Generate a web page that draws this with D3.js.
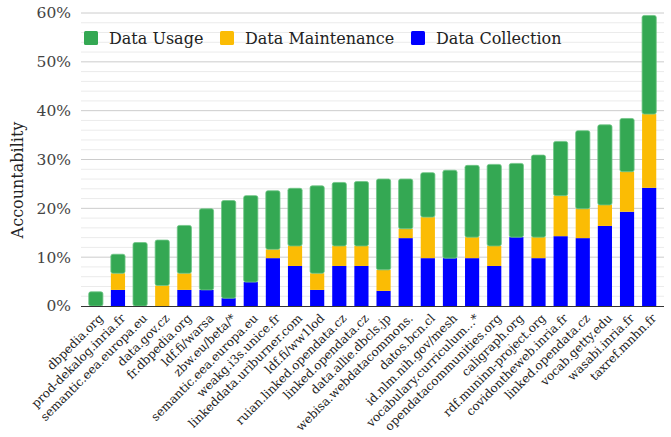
<!DOCTYPE html>
<html><head><meta charset="utf-8">
<script src="https://cdn.jsdelivr.net/npm/d3@7"></script>
<style>body{margin:0;background:#fff}svg{display:block}</style>
</head><body><svg id="c" width="671" height="437"></svg>
<script>
const categories = ["dbpedia.org","prod-dekalog.inria.fr","semantic.eea.europa.eu","data.gov.cz","fr.dbpedia.org","ldf.fi/warsa","zbw.eu/beta/*","semantic.eea.europa.eu","weakg.i3s.unice.fr","linkeddata.uriburner.com","ldf.fi/ww1lod","ruian.linked.opendata.cz","linked.opendata.cz","data.allie.dbcls.jp","webisa.webdatacommons.","datos.bcn.cl","id.nlm.nih.gov/mesh","vocabulary.curriculum...*","opendatacommunities.org","caligraph.org","rdf.muninn-project.org","covidontheweb.inria.fr","linked.opendata.cz","vocab.getty.edu","wasabi.inria.fr","taxref.mnhn.fr"];
const dataCollection  = [0,3.3,0,0,3.3,3.3,1.6,4.9,9.8,8.2,3.3,8.2,8.2,3.1,13.9,9.8,9.8,9.8,8.2,14.1,9.8,14.3,13.9,16.4,19.3,24.2];
const dataMaintenance = [0,3.4,0,4.2,3.4,0,0,0,1.8,4.1,3.4,4.1,4.1,4.3,1.9,8.4,0,4.3,4.1,0,4.3,8.3,6.0,4.3,8.2,15.1];
const dataUsage       = [2.9,3.9,13.0,9.3,9.8,16.6,20.0,17.7,12.0,11.8,17.9,13.0,13.2,18.6,10.2,9.1,18.0,14.7,16.7,15.1,16.8,11.1,16.0,16.4,10.9,20.2];
const seriesNames = ["Data Collection","Data Maintenance","Data Usage"];
const legendOrder = ["Data Usage","Data Maintenance","Data Collection"];
const yTicks = [0,10,20,30,40,50,60];

const colors = {"Data Collection":"#0000ff","Data Maintenance":"#fbbc04","Data Usage":"#34a853"};
const FONT = "'DejaVu Serif', serif";
const svg = d3.select("#c");
const L = 81, R = 664, T = 13, B = 306;

const rows = categories.map((c,i)=>({i, cat:c, "Data Collection":dataCollection[i], "Data Maintenance":dataMaintenance[i], "Data Usage":dataUsage[i]}));
const stack = d3.stack().keys(seriesNames)(rows);

const x = d3.scaleBand().domain(d3.range(categories.length)).range([L,R]).paddingInner(0.36).paddingOuter(0.35);
const y = d3.scaleLinear().domain([0,60]).range([B,T]);

// grid
const minor = d3.range(0,61,2).filter(v=>v%10!==0);
svg.append("g").selectAll("line").data(minor).join("line")
  .attr("x1",L).attr("x2",R).attr("y1",d=>y(d)).attr("y2",d=>y(d))
  .attr("stroke","#ebebeb").attr("stroke-width",1);
svg.append("g").selectAll("line").data(yTicks.filter(v=>v>0)).join("line")
  .attr("x1",L).attr("x2",R).attr("y1",d=>y(d)).attr("y2",d=>y(d))
  .attr("stroke","#cccccc").attr("stroke-width",1);

// bars
stack.forEach(s=>{
  const g = svg.append("g");
  g.selectAll("rect").data(s.filter(d=>d[1]-d[0]>0)).join("rect")
    .attr("x",d=>x(d.data.i)).attr("width",x.bandwidth())
    .attr("y",d=>y(d[1])).attr("height",d=>y(d[0])-y(d[1]))
    .attr("fill",colors[s.key])
    .attr("rx", s.key==="Data Usage"?2:0)
    .attr("stroke", s.key==="Data Usage"?"#6fc585":"none")
    .attr("stroke-width",0.8);
});

// baseline
svg.append("line").attr("x1",L).attr("x2",R).attr("y1",B+0.5).attr("y2",B+0.5).attr("stroke","#333").attr("stroke-width",1.2);

// y axis labels
const ya = svg.append("g").attr("transform",`translate(${L-10},0)`)
  .call(d3.axisLeft(y).tickValues(yTicks).tickFormat(d=>d+"%").tickSize(0).tickPadding(0));
ya.select(".domain").remove();
ya.selectAll("text").attr("font-family",FONT).attr("font-size",15.5).attr("fill","#444");

svg.append("text").attr("transform",`translate(23,180) rotate(-90)`)
  .attr("text-anchor","middle").attr("font-family",FONT).attr("font-size",16).attr("fill","#222")
  .text("Accountability");

// x labels
const xa = svg.append("g").attr("transform",`translate(0,${B})`)
  .call(d3.axisBottom(x).tickFormat(i=>categories[i]).tickSize(0).tickPadding(0));
xa.select(".domain").remove();
xa.selectAll("text").attr("font-family",FONT).attr("font-size",12).attr("fill","#222")
  .attr("text-anchor","end").attr("dy",0)
  .attr("transform","translate(8,13) rotate(-45)");

// legend
const lg = svg.append("g");
const lx = [84, 220, 411];
legendOrder.forEach((n,k)=>{
  lg.append("rect").attr("x",lx[k]).attr("y",31).attr("width",14).attr("height",14).attr("rx",1.5).attr("fill",colors[n]);
  lg.append("text").attr("x",lx[k]+25).attr("y",38).attr("dy","0.36em").attr("font-family",FONT).attr("font-size",16).attr("fill","#222").text(n);
});
</script></body></html>
